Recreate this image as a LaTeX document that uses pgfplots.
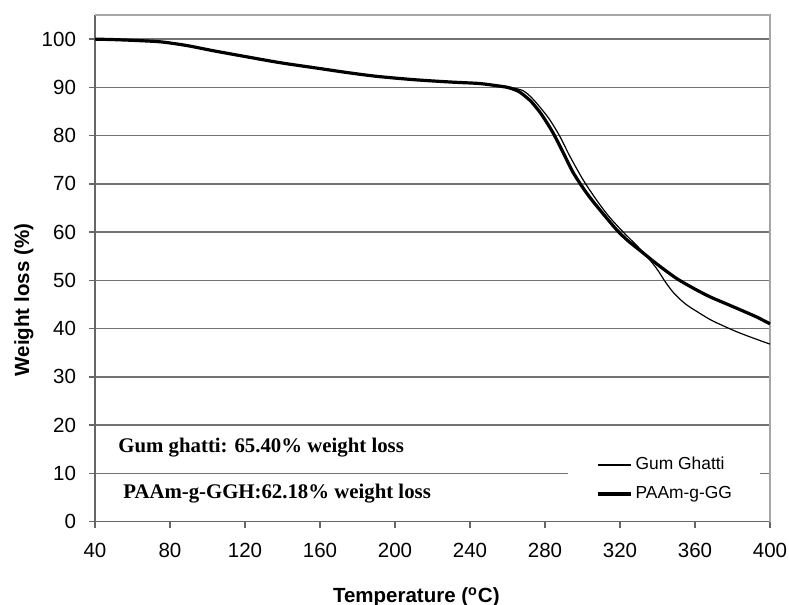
\documentclass[border=0pt]{standalone}
\usepackage{fontspec}
\setmainfont{Liberation Sans}
\newfontfamily\timesfont{Liberation Serif}
\usepackage{pgfplots}
\pgfplotsset{compat=1.18}
\usepackage{pgfplotstable}

\pgfplotstableread{
T W
40 100
50 99.9
60 99.75
73 99.5
80 99.2
90 98.6
103 97.6
120 96.4
139 95.1
160 93.9
174 93.1
190 92.3
210 91.6
230 91.1
245 90.8
250 90.6
258 90.3
263 89.9
268.4 89.3
272 88.2
275.6 86.7
279 85.1
282.7 83.2
288 79.8
293.3 75.7
300.4 70.8
307.6 66.6
314 63.3
321.5 60.1
330 56.8
336 54.2
340 52.2
344 49.8
348 47.7
352 46.1
356 44.8
360 43.8
368 41.9
375 40.6
382 39.4
390 38.2
400 36.8
}\gumghatti

\pgfplotstableread{
T W
40 100
50 99.9
60 99.75
73 99.5
80 99.2
90 98.6
103 97.6
120 96.4
139 95.1
160 93.9
174 93.1
190 92.3
210 91.6
230 91.1
245 90.8
255 90.3
260 90.0
264 89.5
267 88.9
272 87.3
275.6 85.7
279 83.9
284.4 80.5
289.8 76.4
295.1 72.3
302.2 68.1
309.3 64.6
318.2 60.5
324 58.3
330.7 56.2
340 53.3
350.2 50.4
360 48.2
368 46.6
377 45.1
386 43.6
393 42.4
400 41.0
}\paam

\begin{document}
\begin{tikzpicture}
\path[use as bounding box] (-47.5pt,-41.65pt) rectangle (347pt,260.85pt);
\begin{axis}[
  scale only axis,
  width=337.5pt, height=253.35pt,
  xmin=40, xmax=400, ymin=0, ymax=105,
  xtick={40,80,...,400},
  ytick={0,10,...,100},
  axis x line*=bottom, axis y line*=left,
  axis line style={black!60, line width=0.7pt},
  tick align=outside,
  major tick length=3pt,
  tick style={black!60, line width=0.7pt},
  ymajorgrids=true,
  major grid style={black!55, line width=0.8pt},
  clip=false,
  ticklabel style={font=\fontsize{10.25}{12}\selectfont},
  /pgf/number format/assume math mode=true,
  xticklabel style={yshift=-4pt},
  yticklabel style={xshift=-3pt},
  xlabel={\textbf{Temperature (\textsuperscript{o}C)}},
  ylabel={\textbf{Weight loss (\%)}},
  label style={font=\fontsize{10.25}{12}\selectfont},
  xlabel style={at={(axis description cs:0.476,-0.1486)}, anchor=center},
  ylabel style={at={(axis description cs:-0.1052,0.4375)}, anchor=center},
  legend cell align=left,
  legend style={at={(axis cs:292.3,15.24)}, anchor=north west,
    fill=white, draw=none, inner xsep=14pt, inner ysep=4pt,
    font=\fontsize{8.7}{10}\selectfont,
    nodes={inner sep=0pt, text height=6.5pt, text depth=2pt},
    row sep=6pt, column sep=1.5pt},
  legend image code/.code={\draw[#1] (0pt,0pt) -- (16.5pt,0pt);},
]
\draw[black!35, line width=0.7pt] (rel axis cs:0,1) -- (rel axis cs:1,1) -- (rel axis cs:1,0);
\addplot[black, line width=0.6pt, smooth, tension=0.5] table[x=T, y=W] {\gumghatti};
\addlegendentry{Gum Ghatti}
\addplot[black, line width=1.6pt, smooth, tension=0.5] table[x=T, y=W] {\paam};
\addlegendentry{PAAm-g-GG}
\node[anchor=west, inner sep=0pt, font=\timesfont\bfseries\fontsize{10.4}{12}\selectfont] at (axis cs:52.3,15.3) {Gum ghatti: 65.40\% weight loss};
\node[anchor=west, inner sep=0pt, font=\timesfont\bfseries\fontsize{10.4}{12}\selectfont] at (axis cs:54.9,5.75) {PAAm-g-GGH:62.18\% weight loss};
\end{axis}
\end{tikzpicture}
\end{document}
